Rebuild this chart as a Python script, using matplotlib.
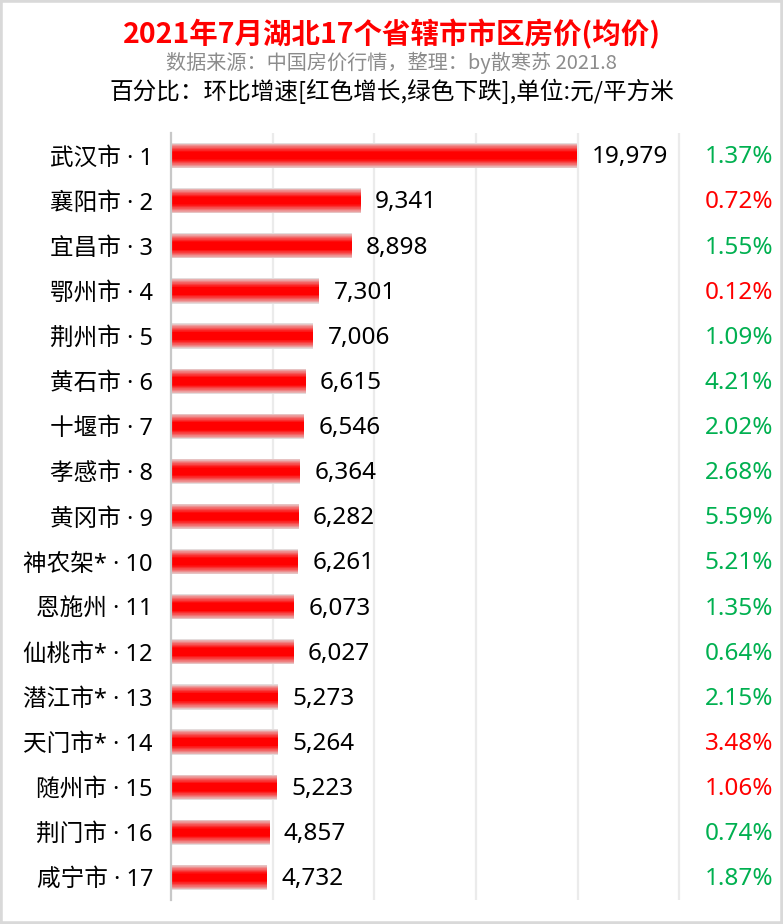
import matplotlib
matplotlib.use("Agg")
import matplotlib.pyplot as plt
import numpy as np
from matplotlib.colors import to_rgb
from matplotlib.patches import Rectangle

plt.rcParams['font.family'] = ['Noto Sans CJK SC', 'DejaVu Sans']

cities = ["武汉市", "襄阳市", "宜昌市", "鄂州市", "荆州市", "黄石市", "十堰市", "孝感市",
          "黄冈市", "神农架*", "恩施州", "仙桃市*", "潜江市*", "天门市*", "随州市", "荆门市", "咸宁市"]
prices = [19979, 9341, 8898, 7301, 7006, 6615, 6546, 6364, 6282, 6261, 6073, 6027,
          5273, 5264, 5223, 4857, 4732]
# month-on-month change in %, positive = increase (red), negative = decrease (green)
changes = [-1.37, 0.72, -1.55, 0.12, -1.09, -4.21, -2.02, -2.68, -5.59, -5.21, -1.35, -0.64,
           -2.15, 3.48, 1.06, -0.74, -1.87]

title = "2021年7月湖北17个省辖市市区房价(均价)"
subtitle = "数据来源：中国房价行情，整理：by散寒苏 2021.8"
note = "百分比：环比增速[红色增长,绿色下跌],单位:元/平方米"

RED = "#ff0000"
GREEN = "#00b050"
LABEL_FONT = ['Noto Sans', 'Noto Sans CJK SC']

W, H = 783, 924
fig = plt.figure(figsize=(W / 100, H / 100), dpi=100)
fig.patch.set_facecolor("white")
fig.add_artist(Rectangle((0, 0), 1, 1, transform=fig.transFigure, fill=False,
                         edgecolor="#d9d9d9", linewidth=4, zorder=10))

left, right = 171 / W, 781 / W
top, bottom = 1 - 133 / H, 1 - 900 / H
ax = fig.add_axes([left, bottom, right - left, top - bottom])

n = len(cities)
y = np.arange(n)

# gradient bars: stacked layers, pale edge to red center
edge = np.array(to_rgb("#e4dcdc"))
center = np.array(to_rgb(RED))
full_h = 0.56
layers = 16
for i in range(layers):
    t = i / (layers - 1)
    h = full_h * (1 - t * 0.7)
    col = edge + (center - edge) * (t ** 0.8)
    ax.barh(y, prices, height=h, color=col, linewidth=0, zorder=2)

ax.set_xlim(0, 30000)
ax.set_ylim(n - 0.5, -0.5)
ax.set_xticks([5000, 10000, 15000, 20000, 25000])
ax.grid(axis="x", color="#ebebeb", linewidth=1.6, zorder=0)
ax.tick_params(axis="x", length=0, labelbottom=False)
ax.tick_params(axis="y", length=0, pad=13)
ax.set_yticks(y)
ax.set_yticklabels([f"{c} · {i + 1}" for i, c in enumerate(cities)], fontsize=17,
                   family=LABEL_FONT)
for s in ["top", "right", "bottom"]:
    ax.spines[s].set_visible(False)
ax.spines["left"].set_color("#c8c8c8")
ax.spines["left"].set_linewidth(1.6)

for yi, p in zip(y, prices):
    ax.text(p + 700, yi + 0.04, f"{p:,}", va="center", ha="left", fontsize=17.5,
            color="black", family=LABEL_FONT)

for yi, c in zip(y, changes):
    ax.text(0.987, yi + 0.04, f"{abs(c):.2f}%", transform=ax.get_yaxis_transform(),
            va="center", ha="right", fontsize=17.5, color=RED if c > 0 else GREEN,
            family=LABEL_FONT)

fig.text(0.5, 1 - 34 / H, title, ha="center", va="center", fontsize=20.5,
         fontweight="bold", color=RED)
fig.text(0.5, 1 - 63 / H, subtitle, ha="center", va="center", fontsize=14.5, color="#8c8c8c")
fig.text(0.5, 1 - 91 / H, note, ha="center", va="center", fontsize=17, color="black")

fig.savefig("out.png", dpi=100, facecolor="white")
